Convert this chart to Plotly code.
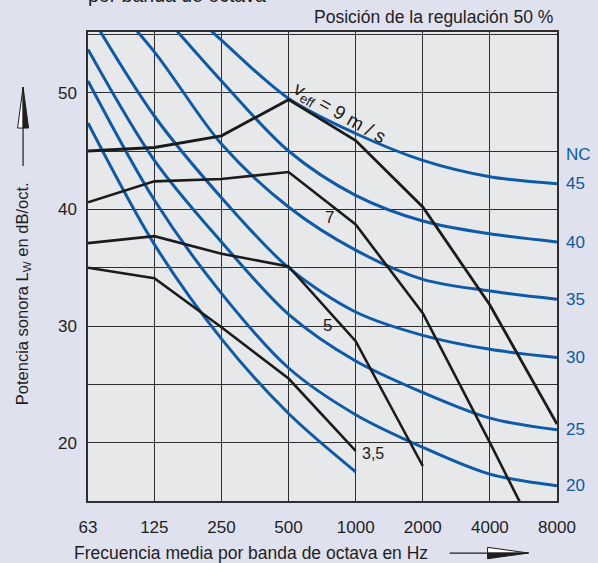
import math
import plotly.graph_objects as go

# ---------------- data ----------------
freqs = [63, 125, 250, 500, 1000, 2000, 4000, 8000]
freq_labels = ["63", "125", "250", "500", "1000", "2000", "4000", "8000"]

# sound power vs. frequency for effective velocities (black)
v9 = [45.0, 45.3, 46.3, 49.4, 45.9, 40.2, 31.8, 21.6]
v7 = [40.6, 42.4, 42.6, 43.2, 38.7, 31.1, 20.0, 8.6]
v5 = [37.1, 37.7, 36.2, 35.1, 28.7, 18.0]
v35 = [35.0, 34.1, 29.9, 25.5, 19.3]

# NC curves (blue)
nc15 = [47.4, 37.0, 28.9, 22.5, 17.5]
nc20 = [51.0, 40.8, 32.8, 26.4, 22.4, 19.6, 17.3, 16.3]
nc25 = [53.7, 44.2, 37.2, 31.0, 27.0, 24.3, 22.1, 21.1]
nc30 = [57.0, 48.0, 41.0, 35.0, 31.2, 29.2, 28.0, 27.3]
nc35 = [60.0, 53.5, 45.6, 40.2, 36.5, 34.0, 33.0, 32.3]
nc40 = [64.0, 57.5, 51.0, 45.0, 41.2, 39.0, 37.9, 37.2]
nc45 = [67.0, 60.0, 54.5, 49.5, 46.5, 44.2, 42.8, 42.2]
nc_labels = ["45", "40", "35", "30", "25", "20"]

y_ticks = [20, 30, 40, 50]

# ---------------- style ----------------
BLUE = "#0d5aa8"
BLACK = "#1b1b1b"
GRID = "#2e2e2e"
PAPER = "#dfe1ef"
PLOT = "#e7e8ea"
FONT = "Liberation Sans, Arial, Helvetica, sans-serif"

W, H = 598, 563
L, R, T, B = 88, 40.5, 32, 62.3
PW, PH = W - L - R, H - T - B


def px(x):
    return (x - L) / PW


def py(y):
    return (H - B - y) / PH


fig = go.Figure()

for vals in [nc15, nc20, nc25, nc30, nc35, nc40, nc45]:
    fig.add_trace(go.Scatter(
        x=freqs[:len(vals)], y=vals, mode="lines",
        line=dict(color=BLUE, width=3, shape="spline", smoothing=0.9),
        hoverinfo="skip", showlegend=False))

for vals, w in [(v9, 2.8), (v7, 2.6), (v5, 2.6), (v35, 2.6)]:
    fig.add_trace(go.Scatter(
        x=freqs[:len(vals)], y=vals, mode="lines",
        line=dict(color=BLACK, width=w),
        hoverinfo="skip", showlegend=False))

annotations = []
# NC labels on the right
nc_ends = [nc45[-1], nc40[-1], nc35[-1], nc30[-1], nc25[-1], nc20[-1]]
for lab, yv in zip(nc_labels, nc_ends):
    annotations.append(dict(x=math.log10(freqs[-1]), y=yv, xref="x", yref="y",
                            text=lab, showarrow=False, xanchor="left", yanchor="middle",
                            xshift=7, font=dict(family=FONT, size=17, color=BLUE)))
annotations.append(dict(x=math.log10(freqs[-1]), y=nc45[-1], xref="x", yref="y",
                        text="NC", showarrow=False, xanchor="left", yanchor="middle",
                        xshift=7, yshift=29, font=dict(family=FONT, size=17, color=BLUE)))

# velocity labels
annotations.append(dict(x=math.log10(845), y=48.2, xref="x", yref="y",
                        text="v<sub>eff</sub> = 9 m / s", showarrow=False, textangle=30,
                        font=dict(family=FONT, size=19, color=BLACK)))
annotations.append(dict(x=math.log10(765), y=39.3, xref="x", yref="y", text="7",
                        showarrow=False, font=dict(family=FONT, size=17, color=BLACK)))
annotations.append(dict(x=math.log10(751), y=30.05, xref="x", yref="y", text="5",
                        showarrow=False, font=dict(family=FONT, size=17, color=BLACK)))
annotations.append(dict(x=math.log10(1196), y=19.05, xref="x", yref="y", text="3,5",
                        showarrow=False, font=dict(family=FONT, size=16, color=BLACK)))

# titles
annotations.append(dict(x=px(86), y=py(-4.5), xref="paper", yref="paper",
                        text="por banda de octava", showarrow=False,
                        xanchor="left", yanchor="middle",
                        font=dict(family=FONT, size=19.5, color="#1e1e1e")))
annotations.append(dict(x=px(555), y=py(17), xref="paper", yref="paper",
                        text="Posición de la regulación 50 %", showarrow=False,
                        xanchor="right", yanchor="middle",
                        font=dict(family=FONT, size=17.5, color="#1e1e1e")))
annotations.append(dict(x=px(72), y=py(553), xref="paper", yref="paper",
                        text="Frecuencia media por banda de octava en Hz", showarrow=False,
                        xanchor="left", yanchor="middle",
                        font=dict(family=FONT, size=17.5, color="#1e1e1e")))
annotations.append(dict(x=px(23), y=py(294), xref="paper", yref="paper",
                        text="Potencia sonora L<sub>W</sub> en dB/oct.", showarrow=False,
                        textangle=-90, xanchor="center", yanchor="middle",
                        font=dict(family=FONT, size=16.5, color="#1e1e1e")))

shapes = []
# y-axis arrow
shapes.append(dict(type="line", xref="paper", yref="paper",
                   x0=px(23), x1=px(23), y0=py(166), y1=py(126),
                   line=dict(color="#1e1e1e", width=1.2)))
shapes.append(dict(type="path", xref="paper", yref="paper",
                   path=f"M {px(17.5)} {py(128)} L {px(23)} {py(128)} L {px(23)} {py(87)} Z",
                   fillcolor="white", line=dict(color="#1e1e1e", width=1)))
shapes.append(dict(type="path", xref="paper", yref="paper",
                   path=f"M {px(23)} {py(128)} L {px(28.5)} {py(128)} L {px(23)} {py(87)} Z",
                   fillcolor="#1e1e1e", line=dict(color="#1e1e1e", width=1)))
# x-axis arrow
shapes.append(dict(type="line", xref="paper", yref="paper",
                   x0=px(450), x1=px(490), y0=py(552.7), y1=py(552.7),
                   line=dict(color="#1e1e1e", width=1.2)))
shapes.append(dict(type="path", xref="paper", yref="paper",
                   path=f"M {px(488)} {py(547)} L {px(488)} {py(552.7)} L {px(529)} {py(552.7)} Z",
                   fillcolor="white", line=dict(color="#1e1e1e", width=1)))
shapes.append(dict(type="path", xref="paper", yref="paper",
                   path=f"M {px(488)} {py(558.4)} L {px(488)} {py(552.7)} L {px(529)} {py(552.7)} Z",
                   fillcolor="#1e1e1e", line=dict(color="#1e1e1e", width=1)))

fig.update_layout(
    width=W, height=H, autosize=False,
    margin=dict(l=L, r=R, t=T, b=B, pad=0),
    paper_bgcolor=PAPER, plot_bgcolor=PLOT,
    showlegend=False,
    annotations=annotations, shapes=shapes,
    font=dict(family=FONT, color="#1e1e1e"),
)
fig.update_xaxes(
    type="log", range=[math.log10(freqs[0]), math.log10(freqs[-1])],
    tickmode="array", tickvals=freqs, ticktext=freq_labels,
    showgrid=True, gridcolor=GRID, gridwidth=1.3,
    showline=True, mirror=True, linecolor=GRID, linewidth=1.5,
    ticks="", ticklabelstandoff=10, zeroline=False,
    tickfont=dict(family=FONT, size=17, color="#1e1e1e"),
)
fig.update_yaxes(
    range=[15, 55.2], tickmode="array", tickvals=y_ticks,
    showgrid=True, gridcolor=GRID, gridwidth=1.3,
    minor=dict(dtick=5, tick0=0, showgrid=True, gridcolor=GRID, gridwidth=1.3, ticks=""),
    showline=True, mirror=True, linecolor=GRID, linewidth=1.5,
    ticks="", ticklabelstandoff=6, zeroline=False,
    tickfont=dict(family=FONT, size=17, color="#1e1e1e"),
)

fig.write_html(
    "out.html",
    config={"displayModeBar": False},
    post_script=(
        "document.body.style.margin='0';"
        "document.body.style.padding='0';"
        "document.body.style.overflow='hidden';"
        "document.body.style.background='" + PAPER + "';"
    ),
)
